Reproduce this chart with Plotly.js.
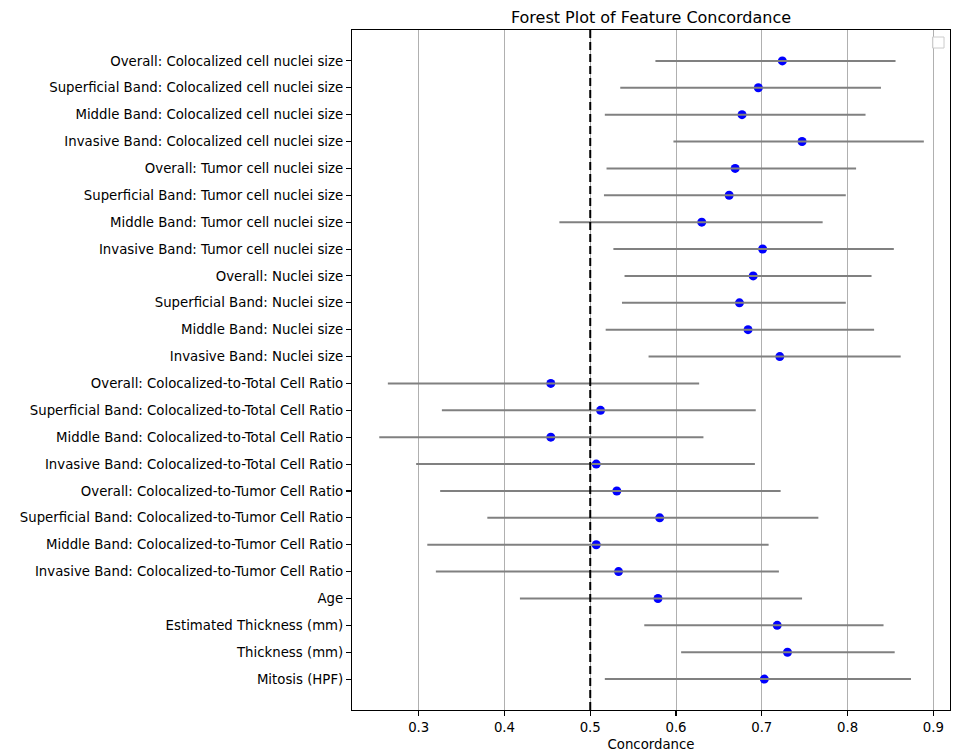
<!DOCTYPE html>
<html>
<head>
<meta charset="utf-8">
<script src="https://cdn.plot.ly/plotly-3.0.1.min.js"></script>
<style>html,body{margin:0;padding:0;background:#fff;}#chart{width:955px;height:754px;}</style>
</head>
<body>
<div id="chart"></div>
<script>
const features = [
  "Overall: Colocalized cell nuclei size",
  "Superficial Band: Colocalized cell nuclei size",
  "Middle Band: Colocalized cell nuclei size",
  "Invasive Band: Colocalized cell nuclei size",
  "Overall: Tumor cell nuclei size",
  "Superficial Band: Tumor cell nuclei size",
  "Middle Band: Tumor cell nuclei size",
  "Invasive Band: Tumor cell nuclei size",
  "Overall: Nuclei size",
  "Superficial Band: Nuclei size",
  "Middle Band: Nuclei size",
  "Invasive Band: Nuclei size",
  "Overall: Colocalized-to-Total Cell Ratio",
  "Superficial Band: Colocalized-to-Total Cell Ratio",
  "Middle Band: Colocalized-to-Total Cell Ratio",
  "Invasive Band: Colocalized-to-Total Cell Ratio",
  "Overall: Colocalized-to-Tumor Cell Ratio",
  "Superficial Band: Colocalized-to-Tumor Cell Ratio",
  "Middle Band: Colocalized-to-Tumor Cell Ratio",
  "Invasive Band: Colocalized-to-Tumor Cell Ratio",
  "Age",
  "Estimated Thickness (mm)",
  "Thickness (mm)",
  "Mitosis (HPF)"
];
const concordance = [0.724, 0.696, 0.677, 0.747, 0.669, 0.662, 0.630, 0.701, 0.690, 0.674, 0.684, 0.721,
                     0.454, 0.512, 0.454, 0.507, 0.531, 0.581, 0.507, 0.533, 0.579, 0.718, 0.730, 0.703];
const ciLower = [0.576, 0.535, 0.517, 0.597, 0.519, 0.516, 0.464, 0.527, 0.540, 0.537, 0.518, 0.568,
                 0.264, 0.327, 0.254, 0.297, 0.325, 0.380, 0.310, 0.320, 0.418, 0.563, 0.606, 0.517];
const ciUpper = [0.856, 0.839, 0.821, 0.889, 0.810, 0.798, 0.771, 0.854, 0.828, 0.798, 0.831, 0.862,
                 0.627, 0.693, 0.632, 0.692, 0.722, 0.766, 0.708, 0.720, 0.747, 0.842, 0.855, 0.874];
const referenceLine = 0.5;
const xTicks = [0.3, 0.4, 0.5, 0.6, 0.7, 0.8, 0.9];

// Build CI segments (separated by nulls) from the data arrays
const segX = [], segY = [];
features.forEach((f, i) => {
  segX.push(ciLower[i], ciUpper[i], null);
  segY.push(f, f, null);
});

const font = "DejaVu Sans, Liberation Sans, sans-serif";
const fs = 13.3;

const traces = [
  {
    type: "scatter", mode: "markers",
    x: concordance, y: features,
    marker: {color: "blue", size: 9},
    hoverinfo: "x+y", showlegend: false
  },
  {
    type: "scatter", mode: "lines",
    x: segX, y: segY,
    line: {color: "gray", width: 2},
    connectgaps: false, hoverinfo: "skip", showlegend: false
  }
];

const layout = {
  width: 955, height: 754,
  margin: {l: 352, r: 5, t: 30, b: 44},
  paper_bgcolor: "white", plot_bgcolor: "white",
  font: {family: font, size: fs, color: "black"},
  title: {
    text: "Forest Plot of Feature Concordance",
    font: {family: font, size: 16, color: "black"},
    x: 0.5, xref: "paper", xanchor: "center",
    y: 1 - 17 / 754, yref: "container", yanchor: "middle"
  },
  xaxis: {
    range: [0.2222, 0.9195],
    tickvals: xTicks, ticktext: xTicks.map(v => v.toFixed(1)),
    showgrid: true, gridcolor: "#b0b0b0", gridwidth: 1,
    zeroline: false,
    showline: true, linecolor: "black", linewidth: 1.1, mirror: true,
    ticks: "outside", ticklen: 5, tickwidth: 1.1, tickcolor: "black",
    tickfont: {family: font, size: fs, color: "black"},
    title: {text: "Concordance", font: {family: font, size: fs, color: "black"}, standoff: 5}
  },
  yaxis: {
    type: "category",
    categoryorder: "array", categoryarray: features,
    range: [features.length - 1 + 1.15, -1.15],
    showgrid: false, zeroline: false,
    showline: true, linecolor: "black", linewidth: 1.1, mirror: true,
    ticks: "outside", ticklen: 5, tickwidth: 1.1, tickcolor: "black",
    tickfont: {family: font, size: fs, color: "black"}
  },
  shapes: [
    {
      type: "line", xref: "x", yref: "paper",
      x0: referenceLine, x1: referenceLine, y0: 0, y1: 1,
      line: {color: "black", width: 2, dash: "8px,4px"},
      layer: "above"
    },
    {
      type: "rect", xref: "paper", yref: "paper",
      x0: 0.9707, x1: 0.99, y0: 0.9735, y1: 0.9897,
      line: {color: "#cccccc", width: 1},
      fillcolor: "rgba(255,255,255,0.8)",
      layer: "above"
    }
  ]
};

Plotly.newPlot("chart", traces, layout, {displayModeBar: false, staticPlot: true});
</script>
</body>
</html>
